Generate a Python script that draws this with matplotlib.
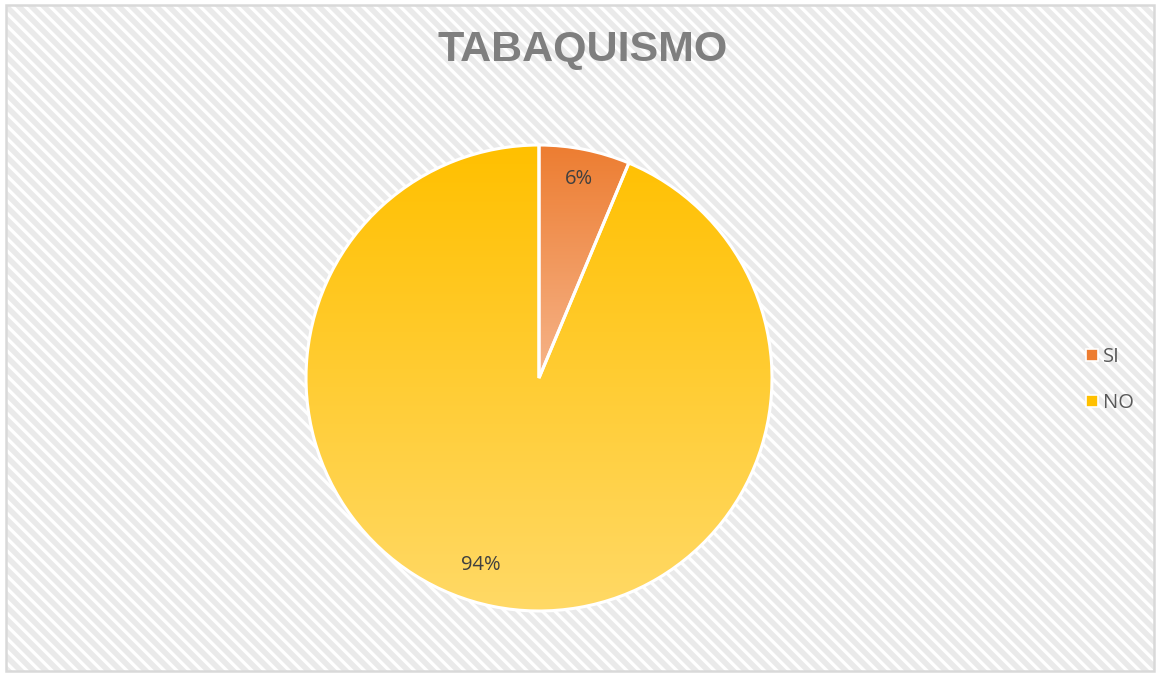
import numpy as np
import matplotlib.pyplot as plt
from matplotlib.patches import Rectangle
from matplotlib.colors import LinearSegmentedColormap
from matplotlib.lines import Line2D

categories = ['SI', 'NO']
values = [6.3, 93.7]
labels_pct = ['6%', '94%']

top_colors = ['#ED7D31', '#FFC000']
bottom_colors = ['#F6B48A', '#FFD966']

fig = plt.figure(figsize=(11.6, 6.76), dpi=100)
ax = fig.add_axes([0, 0, 1, 1])

# background: white with light diagonal stripes and a grey border
frame = Rectangle((6, 5), 1148, 666, facecolor='white', edgecolor='none', zorder=0)
ax.add_patch(frame)
step = 12.5
for k in np.arange(-700, 1200, step):
    ln, = ax.plot([k, k + 700], [676, -24], color='#EAEAEA', lw=4.0,
                  solid_capstyle='butt', zorder=0.5)
    ln.set_clip_path(frame)
ax.add_patch(Rectangle((6, 5), 1148, 666, facecolor='none', edgecolor='#D9D9D9',
                       linewidth=1.8, zorder=1))

cx, cy, r = 539, 676 - 378, 233
wedges, _ = ax.pie(values, startangle=90, counterclock=False, center=(cx, cy),
                   radius=r, frame=True,
                   wedgeprops=dict(edgecolor='white', linewidth=2.2))
ax.set_xlim(0, 1160)
ax.set_ylim(0, 676)
ax.set_aspect('equal')
ax.axis('off')

# vertical gradient fill, clipped to each wedge
for w, c1, c2 in zip(wedges, top_colors, bottom_colors):
    w.set_zorder(3)
    bb = w.get_path().get_extents(w.get_transform())
    inv = ax.transData.inverted()
    (x0, y0), (x1, y1) = inv.transform([[bb.x0, bb.y0], [bb.x1, bb.y1]])
    cmap = LinearSegmentedColormap.from_list('g', [c1, c2])
    grad = np.linspace(0, 1, 256).reshape(-1, 1)
    im = ax.imshow(grad, cmap=cmap, extent=(x0, x1, y0, y1), aspect='auto',
                   origin='upper', zorder=2, interpolation='bilinear')
    im.set_clip_path(w)
    w.set_facecolor('none')

ax.set_xlim(0, 1160)
ax.set_ylim(0, 676)

# percentage labels (Excel "best fit" style placement)
dist = [0.87, 0.84]
shift = [0.0, -6.0]
theta1 = 90
for v, lab, d, s in zip(values, labels_pct, dist, shift):
    mid = np.deg2rad(theta1 - v / sum(values) * 360 / 2 + s)
    theta1 -= v / sum(values) * 360
    ax.text(cx + d * r * np.cos(mid), cy + d * r * np.sin(mid), lab,
            ha='center', va='center', fontsize=14.5, color='#404040',
            family='Open Sans', zorder=5)

fig.text(583 / 1160, 1 - 50 / 676, 'TABAQUISMO', ha='center', va='center',
         fontsize=31, fontweight='bold', color='#7F7F7F', family='Liberation Sans')

handles = [Line2D([], [], marker='s', linestyle='none', markersize=8.5,
                  markerfacecolor=c, markeredgecolor='white', markeredgewidth=1.2)
           for c in top_colors]
fig.legend(handles, categories, loc='center left',
           bbox_to_anchor=(1066 / 1160, 1 - 380 / 676), frameon=False,
           prop={'family': 'Open Sans', 'size': 14.5}, labelcolor='#595959',
           handlelength=0.8, handletextpad=0.15, labelspacing=1.3)

fig.savefig('out.png', dpi=100)
